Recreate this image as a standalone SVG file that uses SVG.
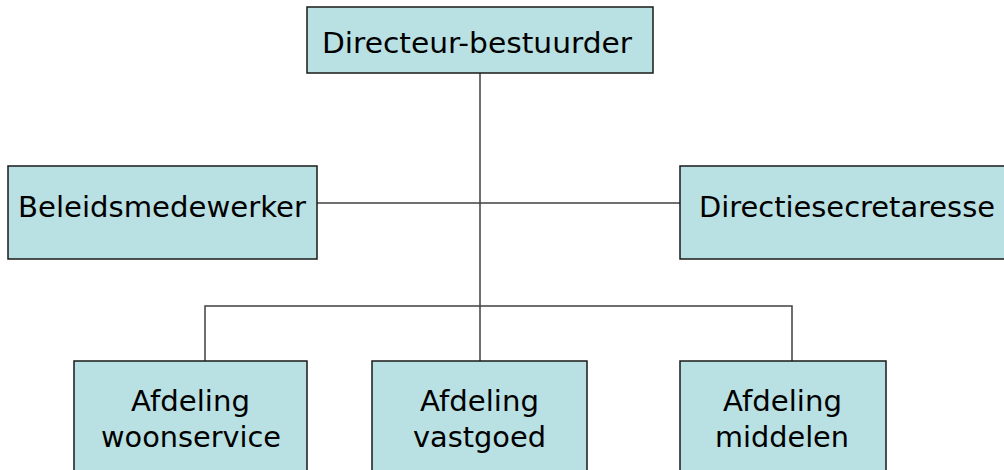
<svg xmlns="http://www.w3.org/2000/svg" width="1004" height="470" viewBox="0 0 1004 470">
<style>
.box{fill:#B9E0E3;stroke:#1a1a1a;stroke-width:1.5}
.lbl{font-family:"DejaVu Sans","Liberation Sans",sans-serif;font-size:27.5px;fill:#000;text-anchor:middle}
.con{fill:none;stroke:#404040;stroke-width:1.5}
</style>
<rect width="1004" height="470" fill="#fff"/>
<g id="connectors">
<line class="con" x1="480" y1="73" x2="480" y2="361"/>
<line class="con" x1="317" y1="203" x2="680" y2="203"/>
<polyline class="con" points="205,361 205,306 792,306 792,361"/>
</g>
<g id="n-directeur">
<rect class="box" x="307" y="7" width="346" height="66"/>
<text class="lbl" x="477" y="53" textLength="310" lengthAdjust="spacingAndGlyphs">Directeur-bestuurder</text>
</g>
<g id="n-beleid">
<rect class="box" x="8" y="166" width="309" height="93"/>
<text class="lbl" x="162" y="217" textLength="288" lengthAdjust="spacingAndGlyphs">Beleidsmedewerker</text>
</g>
<g id="n-secretaresse">
<rect class="box" x="680" y="166" width="340" height="93"/>
<text class="lbl" x="847" y="217" textLength="296" lengthAdjust="spacingAndGlyphs">Directiesecretaresse</text>
</g>
<g id="n-woonservice">
<rect class="box" x="74" y="361" width="233" height="120"/>
<text class="lbl" x="190.5" y="411" textLength="119" lengthAdjust="spacingAndGlyphs">Afdeling</text>
<text class="lbl" x="191" y="447" textLength="180" lengthAdjust="spacingAndGlyphs">woonservice</text>
</g>
<g id="n-vastgoed">
<rect class="box" x="372" y="361" width="215" height="120"/>
<text class="lbl" x="479.5" y="411" textLength="119" lengthAdjust="spacingAndGlyphs">Afdeling</text>
<text class="lbl" x="479.5" y="447" textLength="133" lengthAdjust="spacingAndGlyphs">vastgoed</text>
</g>
<g id="n-middelen">
<rect class="box" x="680" y="361" width="206" height="120"/>
<text class="lbl" x="782.5" y="411" textLength="119" lengthAdjust="spacingAndGlyphs">Afdeling</text>
<text class="lbl" x="782" y="447" textLength="134" lengthAdjust="spacingAndGlyphs">middelen</text>
</g>
</svg>
